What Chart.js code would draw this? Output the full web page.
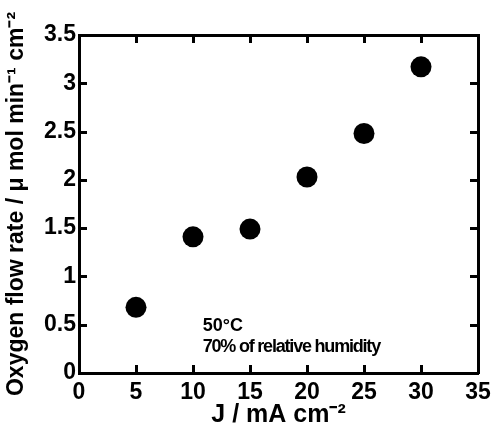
<!DOCTYPE html>
<html>
<head>
<meta charset="utf-8">
<script src="https://cdn.jsdelivr.net/npm/chart.js@4/dist/chart.umd.min.js"></script>
<style>
html,body{margin:0;padding:0;background:#fff;}
canvas{display:block;}
</style>
</head>
<body>
<canvas id="c" width="492" height="430"></canvas>
<script>
// ---- data ----
const currentDensity = [5, 10, 15, 20, 25, 30];          // J / mA cm^-2
const oxygenFlow = [0.68, 1.41, 1.49, 2.03, 2.48, 3.17];   // µmol min^-1 cm^-2
const xTitle = 'J / mA cm\u207B\u00B2';
const yTitle = 'Oxygen flow rate / \u03BC mol min\u207B\u00B9 cm\u207B\u00B2';
const noteLines = ['50\u00B0C', '70% of relative humidity'];

const FONT = "'Liberation Sans', Arial, Helvetica, sans-serif";

const notePlugin = {
  id: 'notes',
  afterDatasetsDraw(chart, args, opts) {
    const {ctx, scales} = chart;
    const xs = scales.x, ys = scales.y;
    ctx.save();
    ctx.fillStyle = '#000';
    ctx.font = opts.font;
    ctx.textBaseline = 'alphabetic';
    ctx.textAlign = 'left';
    opts.items.forEach(it => {
      ctx.letterSpacing = it.spacing || '0px';
      ctx.fillText(it.text, xs.getPixelForValue(it.x), ys.getPixelForValue(it.y));
    });
    ctx.restore();
  }
};

// inward tick marks on all four sides, taken from each scale's own ticks
const innerTicks = {
  id: 'innerTicks',
  afterDraw(chart, args, opts) {
    const {ctx, chartArea: a} = chart;
    const len = opts.length, w = opts.width;
    ctx.save();
    ctx.strokeStyle = '#000';
    ctx.lineWidth = w;
    ctx.lineCap = 'butt';
    ctx.beginPath();
    Object.values(chart.scales).forEach(s => {
      s.ticks.forEach(t => {
        if (t.value <= s.min || t.value >= s.max) return;
        const p = Math.round(s.getPixelForValue(t.value)) + 0.5;
        if (s.position === 'bottom') { ctx.moveTo(p, a.bottom); ctx.lineTo(p, a.bottom - len); }
        else if (s.position === 'top') { ctx.moveTo(p, a.top); ctx.lineTo(p, a.top + len); }
        else if (s.position === 'left') { ctx.moveTo(a.left, p); ctx.lineTo(a.left + len, p); }
        else if (s.position === 'right') { ctx.moveTo(a.right, p); ctx.lineTo(a.right - len, p); }
      });
    });
    ctx.stroke();
    ctx.restore();
  }
};

const gridOpts = {display: false, drawOnChartArea: false, drawTicks: false};
const borderOpts = {display: true, width: 3, color: '#000'};
const tickFont = {family: FONT, size: 23, weight: 'bold'};
const noPad = s => { s.paddingLeft = 0; s.paddingRight = 0; s.paddingTop = 0; s.paddingBottom = 0; };

new Chart(document.getElementById('c'), {
  type: 'scatter',
  data: {
    datasets: [{
      data: currentDensity.map((v, i) => ({x: v, y: oxygenFlow[i]})),
      backgroundColor: '#000',
      borderColor: '#000',
      borderWidth: 0,
      pointRadius: 10.5,
      pointHoverRadius: 10.5,
      showLine: false
    }]
  },
  options: {
    responsive: false,
    animation: false,
    devicePixelRatio: 1,
    layout: {padding: 0},
    plugins: {
      legend: {display: false},
      tooltip: {enabled: false},
      innerTicks: {length: 8, width: 3},
      notes: {
        font: "bold 18px " + FONT,
        items: [
          {text: noteLines[0], x: 10.85, y: 0.44},
          {text: noteLines[1], x: 10.85, y: 0.22, spacing: '-1.2px'}
        ]
      }
    },
    scales: {
      x: {
        type: 'linear', position: 'bottom', min: 0, max: 35,
        ticks: {stepSize: 5, color: '#000', font: tickFont, padding: 6, maxRotation: 0,
                callback: v => String(v)},
        grid: gridOpts, border: borderOpts,
        title: {display: true, text: xTitle, color: '#000', font: {family: FONT, size: 25, weight: 'bold'}, padding: {top: 0, bottom: 0}},
        afterFit: s => { noPad(s); s.height = 57; }
      },
      y: {
        type: 'linear', position: 'left', min: 0, max: 3.5,
        ticks: {stepSize: 0.5, color: '#000', font: tickFont, padding: 3,
                callback: v => String(v)},
        grid: gridOpts, border: borderOpts,
        title: {display: true, text: yTitle, color: '#000', font: {family: FONT, size: 23, weight: 'bold'}, padding: {top: 3, bottom: 0}},
        afterFit: s => { noPad(s); s.width = 79; }
      },
      x2: {
        type: 'linear', position: 'top', min: 0, max: 35,
        ticks: {stepSize: 5, display: false},
        grid: gridOpts, border: borderOpts,
        afterFit: s => { noPad(s); s.height = 35; }
      },
      y2: {
        type: 'linear', position: 'right', min: 0, max: 3.5,
        ticks: {stepSize: 0.5, display: false},
        grid: gridOpts, border: borderOpts,
        afterFit: s => { noPad(s); s.width = 14; }
      }
    }
  },
  plugins: [notePlugin, innerTicks]
});
</script>
</body>
</html>
